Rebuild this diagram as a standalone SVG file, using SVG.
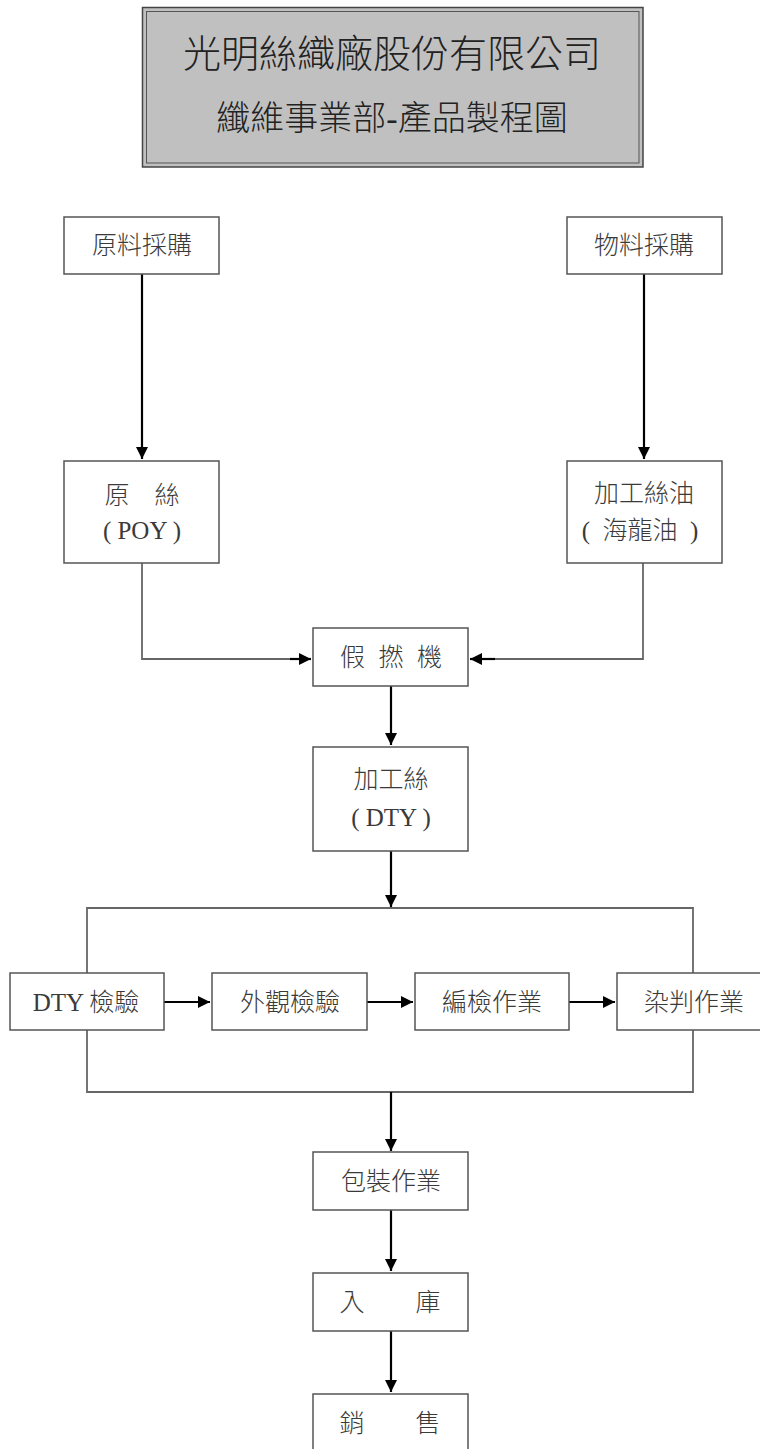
<svg xmlns="http://www.w3.org/2000/svg" width="760" height="1449" viewBox="0 0 760 1449">
<style>
.box{fill:#fff;stroke:#555;stroke-width:1.5}
.t{font-family:"Liberation Serif","Noto Sans CJK TC",serif;font-size:25px;font-weight:300;fill:#3a3a3a;text-anchor:middle}
.title{font-family:"Liberation Serif","Noto Sans CJK TC",serif;font-weight:300;fill:#222;text-anchor:middle}
.arr{fill:none;stroke:#000;stroke-width:2.2;marker-end:url(#ah)}
.ln{fill:none;stroke:#666;stroke-width:1.8}
</style>
<defs>
<marker id="ah" viewBox="0 0 12 12" refX="12" refY="6" markerWidth="12" markerHeight="12" markerUnits="userSpaceOnUse" orient="auto">
<path d="M0,0 L12,6 L0,12 z" fill="#000"/>
</marker>
</defs>
<rect width="760" height="1449" fill="#fff"/>
<g id="title">
<rect x="142.5" y="7.5" width="500.5" height="159.5" fill="#c0c0c0" stroke="#444" stroke-width="1.5"/>
<rect x="146.5" y="11.5" width="492.5" height="151.5" fill="none" stroke="#555" stroke-width="1"/>
<text class="title" x="392" y="67" font-size="38">光明絲織廠股份有限公司</text>
<text class="title" x="392" y="130" font-size="34">纖維事業部-產品製程圖</text>
</g>
<g id="connectors">
<path class="arr" d="M142,274 V459"/>
<path class="arr" d="M644,274 V459"/>
<path class="ln" d="M142,563 V659 H300"/>
<path class="arr" d="M290,659 H311"/>
<path class="ln" d="M643,563 V659 H485"/>
<path class="arr" d="M495,659 H470"/>
<path class="arr" d="M391,686 V745"/>
<path class="arr" d="M391,851 V907"/>
<path class="ln" d="M87,973 V908 H693 V973"/>
<path class="ln" d="M87,1030 V1092 H693 V1030"/>
<path class="arr" d="M164,1002 H210"/>
<path class="arr" d="M367,1002 H413"/>
<path class="arr" d="M569,1002 H615"/>
<path class="arr" d="M391,1092 V1151"/>
<path class="arr" d="M391,1210 V1271"/>
<path class="arr" d="M391,1331 V1392"/>
</g>
<g id="n1"><rect class="box" x="64" y="217" width="155" height="57"/><text class="t" x="142" y="254">原料採購</text></g>
<g id="n2"><rect class="box" x="567" y="217" width="155" height="57"/><text class="t" x="644" y="254">物料採購</text></g>
<g id="n3"><rect class="box" x="64" y="461" width="155" height="102"/><text class="t" x="142" y="504">原　絲</text><text class="t" x="142" y="539">( POY )</text></g>
<g id="n4"><rect class="box" x="567" y="461" width="155" height="102"/><text class="t" x="644" y="502">加工絲油</text><text class="t" x="640" y="539">(&#160;&#160;海龍油&#160;&#160;)</text></g>
<g id="n5"><rect class="box" x="313" y="628" width="155" height="58"/><text class="t" x="352.5 391 429.5" y="666">假撚機</text></g>
<g id="n6"><rect class="box" x="313" y="747" width="155" height="104"/><text class="t" x="391" y="788">加工絲</text><text class="t" x="391" y="826">( DTY )</text></g>
<g id="n7"><rect class="box" x="10" y="973" width="154" height="57"/><text class="t" x="86" y="1011">DTY 檢驗</text></g>
<g id="n8"><rect class="box" x="212" y="973" width="155" height="57"/><text class="t" x="290" y="1011">外觀檢驗</text></g>
<g id="n9"><rect class="box" x="415" y="973" width="154" height="57"/><text class="t" x="492" y="1011">編檢作業</text></g>
<g id="n10"><rect class="box" x="617" y="973" width="160" height="57"/><text class="t" x="694" y="1011">染判作業</text></g>
<g id="n11"><rect class="box" x="313" y="1152" width="155" height="58"/><text class="t" x="391" y="1190">包裝作業</text></g>
<g id="n12"><rect class="box" x="313" y="1273" width="155" height="58"/><text class="t" x="352 428" y="1311">入庫</text></g>
<g id="n13"><rect class="box" x="313" y="1394" width="155" height="60"/><text class="t" x="352 428" y="1432">銷售</text></g>
</svg>
